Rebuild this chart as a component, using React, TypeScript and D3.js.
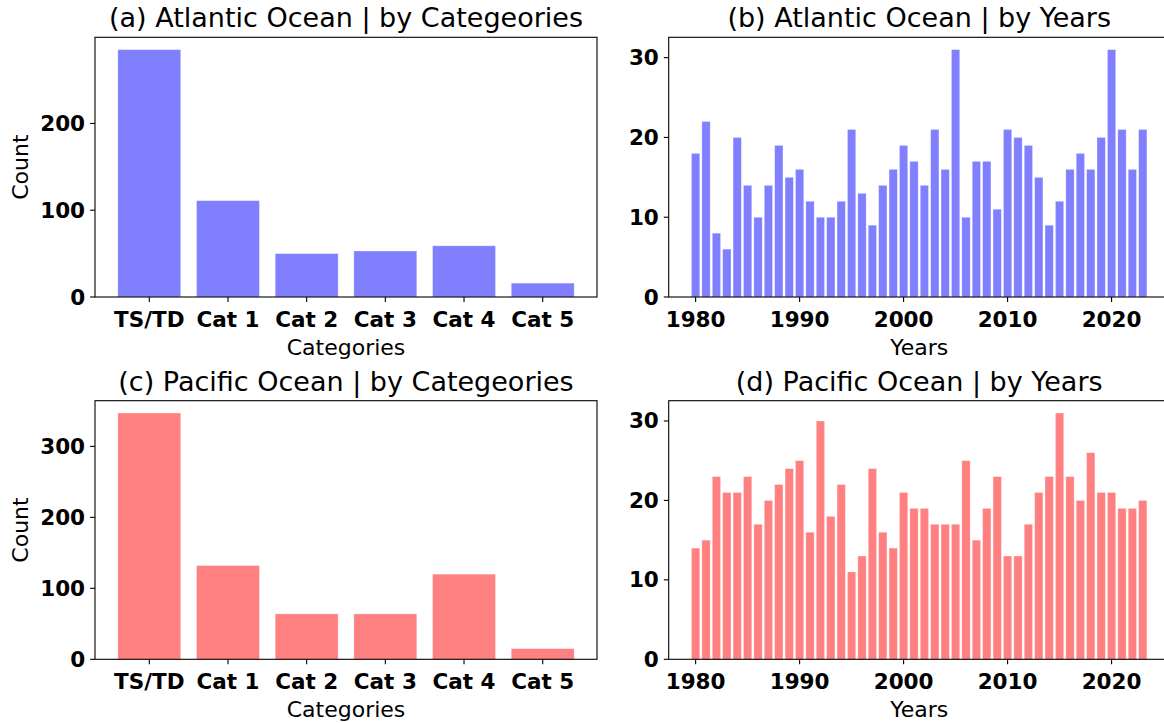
import React from "react";
import * as d3 from "d3";

const categories = ["TS/TD", "Cat 1", "Cat 2", "Cat 3", "Cat 4", "Cat 5"];
const atlanticCats = [285, 111, 50, 53, 59, 16];
const pacificCats = [347, 132, 64, 64, 120, 15];
const years = d3.range(1980, 2024);
const atlanticYears = [18, 22, 8, 6, 20, 14, 10, 14, 19, 15, 16, 12, 10, 10, 12, 21, 13, 9, 14, 16, 19, 17, 14, 21, 16, 31, 10, 17, 17, 11, 21, 20, 19, 15, 9, 12, 16, 18, 16, 20, 31, 21, 16, 21];
const pacificYears = [14, 15, 23, 21, 21, 23, 17, 20, 22, 24, 25, 16, 30, 18, 22, 11, 13, 24, 16, 14, 21, 19, 19, 17, 17, 17, 25, 15, 19, 23, 13, 13, 17, 21, 23, 31, 23, 20, 26, 21, 21, 19, 19, 20];
const catTicksA = [0, 100, 200];
const catTicksC = [0, 100, 200, 300];
const yearCountTicks = [0, 10, 20, 30];
const yearTicks = [1980, 1990, 2000, 2010, 2020];

const BLUE = "#8080ff";
const RED = "#ff8080";
const FONT = "DejaVu Sans";
const TICK = 4.9;

type Box = { x0: number; x1: number; y0: number; y1: number };

function Panel({ box, title, xLabel, yLabel, positions, values, xDomain, yTicks, xTicks, xTickLabels, color }: any) {
  const b: Box = box;
  const ymax = d3.max(values as number[])! * 1.05;
  const x = d3.scaleLinear().domain(xDomain).range([b.x0, b.x1]);
  const y = d3.scaleLinear().domain([0, ymax]).range([b.y1, b.y0]);
  const bw = x(xDomain[0] + 0.8) - x(xDomain[0]);
  return (
    <g>
      <g>
        {values.map((v: number, i: number) => (
          <rect key={i} x={x(positions[i]) - bw / 2} y={y(v)} width={bw} height={y(0) - y(v)} fill={color} stroke="#ffffff" strokeOpacity={0.5} strokeWidth={0.6} />
        ))}
      </g>
      <rect x={b.x0} y={b.y0} width={b.x1 - b.x0} height={b.y1 - b.y0} fill="none" stroke="#000" strokeWidth={1.1} />
      {yTicks.map((t: number) => (
        <g key={"y" + t}>
          <line x1={b.x0 - TICK} x2={b.x0} y1={y(t)} y2={y(t)} stroke="#000" strokeWidth={1.1} />
          <text x={b.x0 - TICK - 5} y={y(t)} textAnchor="end" dominantBaseline="central" fontFamily={FONT} fontWeight="bold" fontSize={21.5}>{t}</text>
        </g>
      ))}
      {xTicks.map((t: number, i: number) => (
        <g key={"x" + i}>
          <line x1={x(t)} x2={x(t)} y1={b.y1} y2={b.y1 + TICK} stroke="#000" strokeWidth={1.1} />
          <text x={x(t)} y={b.y1 + 22} textAnchor="middle" dominantBaseline="central" fontFamily={FONT} fontWeight="bold" fontSize={21.5}>{xTickLabels[i]}</text>
        </g>
      ))}
      <text x={(b.x0 + b.x1) / 2} y={b.y1 + 50} textAnchor="middle" dominantBaseline="central" fontFamily={FONT} fontSize={22}>{xLabel}</text>
      {yLabel ? (
        <text transform={`translate(${b.x0 - 75},${(b.y0 + b.y1) / 2}) rotate(-90)`} textAnchor="middle" dominantBaseline="central" fontFamily={FONT} fontSize={22}>{yLabel}</text>
      ) : null}
      <text x={(b.x0 + b.x1) / 2} y={b.y0 - 10} textAnchor="middle" fontFamily={FONT} fontSize={27}>{title}</text>
    </g>
  );
}

export default function App() {
  const catPos = categories.map((_, i) => i);
  const catDomain = [-0.4 - 0.05 * 5.8, 5.4 + 0.05 * 5.8];
  const yr0 = years[0] - 0.4, yr1 = years[years.length - 1] + 0.4;
  const yrPad = (yr1 - yr0) * 0.05;
  const yearDomain = [yr0 - yrPad, yr1 + yrPad];
  const A: Box = { x0: 95, x1: 597, y0: 37.3, y1: 297 };
  const B: Box = { x0: 668.7, x1: 1169.7, y0: 37.3, y1: 297 };
  const C: Box = { x0: 95, x1: 597, y0: 400.7, y1: 659.3 };
  const D: Box = { x0: 668.7, x1: 1169.7, y0: 400.7, y1: 659.3 };
  return (
    <svg width={1164} height={723} style={{ position: "absolute", left: 0, top: 0, background: "#fff" }}>
      <rect width={1164} height={723} fill="#fff" />
      <Panel box={A} title="(a) Atlantic Ocean | by Categeories" xLabel="Categories" yLabel="Count" positions={catPos} values={atlanticCats} xDomain={catDomain} yTicks={catTicksA} xTicks={catPos} xTickLabels={categories} color={BLUE} />
      <Panel box={B} title="(b) Atlantic Ocean | by Years" xLabel="Years" yLabel={null} positions={years} values={atlanticYears} xDomain={yearDomain} yTicks={yearCountTicks} xTicks={yearTicks} xTickLabels={yearTicks} color={BLUE} />
      <Panel box={C} title="(c) Pacific Ocean | by Categeories" xLabel="Categories" yLabel="Count" positions={catPos} values={pacificCats} xDomain={catDomain} yTicks={catTicksC} xTicks={catPos} xTickLabels={categories} color={RED} />
      <Panel box={D} title="(d) Pacific Ocean | by Years" xLabel="Years" yLabel={null} positions={years} values={pacificYears} xDomain={yearDomain} yTicks={yearCountTicks} xTicks={yearTicks} xTickLabels={yearTicks} color={RED} />
    </svg>
  );
}
